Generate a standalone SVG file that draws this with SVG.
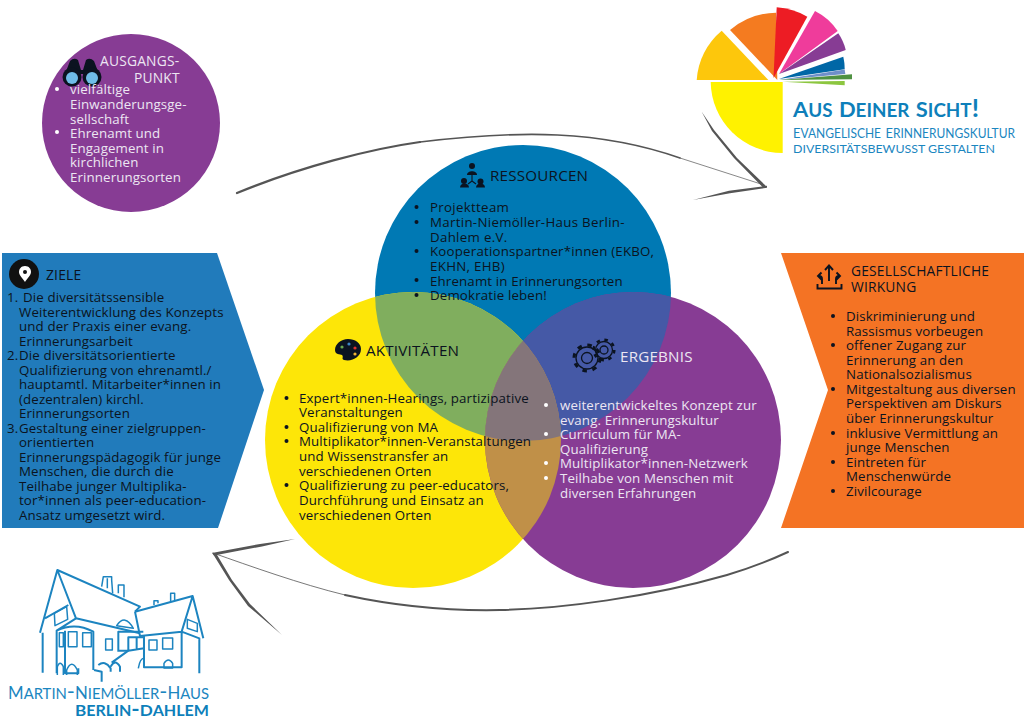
<svg xmlns="http://www.w3.org/2000/svg" width="1024" height="724" viewBox="0 0 1024 724">
<style>
text{font-family:"Open Sans","Noto Sans","Liberation Sans",sans-serif;font-size:13.3px;letter-spacing:.12px;fill:#0b1320}
.l{fill:#ece6f2}
.h{font-size:15.2px;letter-spacing:.2px}
.h2{font-size:13.8px;letter-spacing:.2px}
.dot{fill:#0b1320}
.wd{fill:#fff}
.sk{fill:none;stroke:#555;stroke-linecap:round}
.bar{fill:#555}
.lg{font-family:"Lato","Noto Sans",sans-serif;font-variant:small-caps;fill:#1b86bf;letter-spacing:0}
.lb{font-weight:700;fill:#0e7fba}
.hs{fill:none;stroke:#1c84c0;stroke-width:6;stroke-linejoin:round}
.hi{fill:none;stroke:#1c84c0;stroke-width:4.500;stroke-linejoin:round}
</style>
<defs>
<circle id="cb" cx="523" cy="293" r="148"/>
<circle id="cy" cx="413" cy="440" r="148"/>
<circle id="cp" cx="633" cy="440" r="148"/>
<clipPath id="clb"><use href="#cb"/></clipPath>
<clipPath id="cly"><use href="#cy"/></clipPath>
</defs>
<rect width="1024" height="724" fill="#fff"/>

<g id="connectors">
<path class="sk" stroke-width="2.200" d="M237,193C300,167 370,149 420,142"/>
<path class="sk" stroke-width="1.600" d="M420,142C520,130 600,130 680,158"/>
<path class="sk" stroke-width=".7" d="M680,158L764,185"/>
<path class="bar" d="M701.700,111.700L714,130L737,158L767,187L763,187.500L734,158L712,131Z"/>
<path class="bar" d="M767,185.800V187.800L730,193.200L693,200L729,190.700Z"/>
<path class="sk" stroke-width=".8" d="M213,553C250,566 300,584 345,595"/>
<path class="sk" stroke-width="2" d="M345,595C400,607 450,611 500,610C560,609 650,597 727,575Q760,565 788,552"/>
<path class="bar" d="M295,539L260,544L225,550.500L212,553L214,555.500L240,550.500L262,546.500Z"/>
<path class="bar" d="M213,554L216.500,554L232,580L250,604L282,635L248,606L229,580Z"/>
</g>

<g id="logo-aus-deiner-sicht">
<path d="M782.700,82H710.700A72,72 0 0 0 782.700,153Z" fill="#fff200"/>
<path d="M768.300,80H696.700A70,70 0 0 1 721.700,30.700Z" fill="#fdc70c"/>
<path d="M777.300,80L730,30A74,74 0 0 1 776,12.700Z" fill="#f47b20"/>
<path d="M773.500,78L776.700,7.300A70,70 0 0 1 807.300,16.700Z" fill="#ed1c24"/>
<path d="M779,74L815,11A60,60 0 0 1 837.700,31Z" fill="#ef3c9b"/>
<path d="M779,74L838.300,33.300A50,50 0 0 1 845.700,50Z" fill="#873c94"/>
<path d="M779,79L843.300,56.700A50,50 0 0 1 844.700,69.300Z" fill="#0067a6"/>
<path d="M779,80L844.700,69.500L845.300,74Z" fill="#6f8fc9"/>
<path d="M779,80L852,74.300V79.300Z" fill="#4f9242"/>
<path d="M782.700,81.700L844.700,81V85.300Z" fill="#8cc63f"/>
<text class="lg lb" x="793" y="116.500" style="font-size:25px" textLength="186" lengthAdjust="spacingAndGlyphs"><tspan style="font-size:21px">A</tspan>us <tspan style="font-size:21px">D</tspan>einer <tspan style="font-size:21px">S</tspan>icht!</text>
<text class="lg" x="793" y="137.700" style="font-size:18.500px" textLength="222" lengthAdjust="spacingAndGlyphs"><tspan style="font-size:14px">E</tspan>vangelische <tspan style="font-size:14px">E</tspan>rinnerungskultur</text>
<text x="793" y="152.700" style="font-family:Lato,'Noto Sans',sans-serif;font-size:11.200px;letter-spacing:0;fill:#1b86bf" textLength="202" lengthAdjust="spacingAndGlyphs">DIVERSITÄTSBEWUSST GESTALTEN</text>
</g>

<g id="logo-martin-niemoeller-haus">
<g transform="translate(0,560) scale(.3333)">
<path class="hs" d="M120,218L172,30L228,175L420,220M172,30L420,140L405,155M135,175L205,135M128,218V338"/>
<path class="hi" d="M163,160L200,140L203,178L165,197Z"/>
<path class="hs" d="M228,175L170,212V340M170,212Q225,185 280,215V330M195,212V340H235V325M282,330L305,335V365"/>
<rect class="hi" x="178" y="218" width="12" height="42"/>
<rect class="hi" x="205" y="215" width="26" height="45"/>
<rect class="hi" x="248" y="218" width="26" height="42"/>
<path class="hi" d="M172,345V320Q180,300 190,320V345M200,345V330Q215,295 232,330V345"/>
<rect class="hi" x="317" y="237" width="20" height="33"/>
<path class="hi" d="M350,197Q375,160 400,205Z"/>
<path class="hs" d="M355,275V215H430M355,272H385L432,265M385,272V232H432V320M410,232V268"/>
<path class="hs" d="M295,315Q315,300 332,325V335M332,320Q345,295 360,320V335M335,308L385,272"/>
<path class="hi" d="M415,325Q420,295 432,295"/>
<path class="hs" d="M405,155L578,108L610,235M405,155L420,228L545,215L578,108M545,215L598,235V340M432,228V322H545V215"/>
<rect class="hi" x="447" y="240" width="24" height="30"/>
<rect class="hi" x="488" y="234" width="30" height="33"/>
<path class="hi" d="M492,324V310Q505,290 518,310V324Z"/>
<path class="hi" d="M562,178L592,190V215L562,205Z"/>
<path class="hi" d="M305,80L310,50H335V60L338,100M322,85V55M355,100V75H372V112"/>
<path class="hi" d="M462,135V122H474V130M512,125V100H524V120"/>
</g>
<text class="lg" x="8" y="698.700" style="font-size:22px" textLength="201" lengthAdjust="spacingAndGlyphs"><tspan style="font-size:17px">M</tspan>artin-<tspan style="font-size:17px">N</tspan>iemöller-<tspan style="font-size:17px">H</tspan>aus</text>
<text class="lg lb" x="75" y="716" style="font-size:21px" textLength="134" lengthAdjust="spacingAndGlyphs"><tspan style="font-size:16px">B</tspan>erlin-<tspan style="font-size:16px">D</tspan>ahlem</text>
</g>

<g id="venn">
<use href="#cb" fill="#0079b4"/>
<use href="#cy" fill="#fde608"/>
<use href="#cp" fill="#873c94"/>
<g clip-path="url(#clb)"><use href="#cy" fill="#80ae5e"/><use href="#cp" fill="#4559a6"/></g>
<g clip-path="url(#cly)"><use href="#cp" fill="#c09048"/></g>
<g clip-path="url(#clb)"><g clip-path="url(#cly)"><use href="#cp" fill="#84757a"/></g></g>
</g>

<g id="ressourcen">
<g fill="#0b1320">
<circle cx="472" cy="166" r="3"/><path d="M467,175c0-5 10-5 10,0z"/>
<circle cx="464" cy="181" r="3"/><path d="M460,187.500c0-5.500 9-5.500 9,0z"/>
<circle cx="480.500" cy="181.500" r="3"/><path d="M476,187.500c0-5.500 9-5.500 9,0z"/>
<path d="M472,175v6M472,181l-4,3M472,181l4,3" stroke="#0b1320" stroke-width="1.100" fill="none"/>
</g>
<text class="h" x="490" y="181">RESSOURCEN</text>
<g class="dot">
<circle cx="416.500" cy="207" r="2"/><circle cx="416.500" cy="222" r="2"/><circle cx="416.500" cy="251" r="2"/><circle cx="416.500" cy="280" r="2"/><circle cx="416.500" cy="295" r="2"/>
</g>
<g style="letter-spacing:.3px">
<text x="430" y="212" style="letter-spacing:.3px">Projektteam</text>
<text x="430" y="227" style="letter-spacing:.3px">Martin-Niemöller-Haus Berlin-</text>
<text x="430" y="242" style="letter-spacing:.3px">Dahlem e.V.</text>
<text x="430" y="256" style="letter-spacing:.2px">Kooperationspartner*innen (EKBO,</text>
<text x="430" y="271" style="letter-spacing:.3px">EKHN, EHB)</text>
<text x="430" y="286" style="letter-spacing:.15px">Ehrenamt in Erinnerungsorten</text>
<text x="430" y="300" style="letter-spacing:.15px">Demokratie leben!</text>
</g>
</g>

<g id="aktivitaeten">
<path d="M348,339c-7,0-13,5-13,11 0,5 5,4 7,5 2,2-1,4 2,5 8,2 17-3 17-11 0-6-6-10-13-10z" fill="#0b1320"/>
<circle cx="342" cy="347" r="1.600" fill="#6aa84f"/><circle cx="349" cy="344" r="1.600" fill="#3d85c6"/><circle cx="355" cy="348" r="1.600" fill="#e03030"/><circle cx="355" cy="354" r="1.600" fill="#f1b434"/>
<text class="h" x="366" y="356">AKTIVITÄTEN</text>
<g class="dot">
<circle cx="286.500" cy="398" r="2"/><circle cx="286.500" cy="427" r="2"/><circle cx="286.500" cy="441" r="2"/><circle cx="286.500" cy="485" r="2"/>
</g>
<text x="299" y="403">Expert*innen-Hearings, partizipative</text>
<text x="299" y="417">Veranstaltungen</text>
<text x="299" y="432">Qualifizierung von MA</text>
<text x="299" y="446">Multiplikator*innen-Veranstaltungen</text>
<text x="299" y="461">und Wissenstransfer an</text>
<text x="299" y="476">verschiedenen Orten</text>
<text x="299" y="490">Qualifizierung zu peer-educators,</text>
<text x="299" y="505">Durchführung und Einsatz an</text>
<text x="299" y="520">verschiedenen Orten</text>
</g>

<g id="ergebnis">
<g fill="none" stroke="#0b1320">
<circle cx="587" cy="358" r="5.500" stroke-width="1.300"/><circle cx="587" cy="358" r="11" stroke-width="1.300"/><circle cx="587" cy="358" r="13" stroke-dasharray="4.500 5.700" stroke-width="3"/>
<circle cx="604" cy="350" r="4" stroke-width="1.300"/><circle cx="604" cy="350" r="8.500" stroke-width="1.300"/><circle cx="604" cy="350" r="10.300" stroke-dasharray="3.500 4.600" stroke-width="2.500"/>
</g>
<text class="h l" x="620" y="362">ERGEBNIS</text>
<g class="wd">
<circle cx="546" cy="405" r="2"/><circle cx="546" cy="434" r="2"/><circle cx="546" cy="463" r="2"/><circle cx="546" cy="478" r="2"/>
</g>
<text class="l" x="560" y="410">weiterentwickeltes Konzept zur</text>
<text class="l" x="560" y="425">evang. Erinnerungskultur</text>
<text class="l" x="560" y="439">Curriculum für MA-</text>
<text class="l" x="560" y="454">Qualifizierung</text>
<text class="l" x="560" y="468">Multiplikator*innen-Netzwerk</text>
<text class="l" x="560" y="483">Teilhabe von Menschen mit</text>
<text class="l" x="560" y="498">diversen Erfahrungen</text>
</g>

<g id="ausgangspunkt">
<circle cx="131" cy="123" r="89" fill="#873c94"/>
<g fill="#0b1320">
<path d="M65,74L70,61Q74,57 78,60L81,70H83L86,60Q90,57 94,61L99,74Z"/>
<circle cx="72" cy="77" r="9.500"/><circle cx="92" cy="77" r="9.500"/>
</g>
<circle cx="72" cy="78" r="6" fill="#6fbde8"/><circle cx="92" cy="78" r="6" fill="#6fbde8"/>
<text class="l h2" x="100" y="66">AUSGANGS-</text>
<text class="l h2" x="134" y="83">PUNKT</text>
<circle cx="57" cy="89" r="2" class="wd"/><circle cx="57" cy="132" r="2" class="wd"/>
<text class="l" x="70" y="94">vielfältige</text>
<text class="l" x="70" y="109">Einwanderungsge-</text>
<text class="l" x="70" y="124">sellschaft</text>
<text class="l" x="70" y="138">Ehrenamt und</text>
<text class="l" x="70" y="153">Engagement in</text>
<text class="l" x="70" y="167">kirchlichen</text>
<text class="l" x="70" y="182">Erinnerungsorten</text>
</g>

<g id="ziele">
<path d="M2,253H217L264,390L218,528H2Z" fill="#217bbb"/>
<circle cx="24" cy="274" r="15" fill="#111"/>
<path d="M25,266c-4,0-6,3-6,6 0,3 4,7 6,10 2-3 6-7 6-10 0-3-2-6-6-6z" fill="#fff"/><circle cx="25" cy="272" r="2" fill="#111"/>
<text class="h2" x="46" y="280">ZIELE</text>
<text x="7" y="302">1.</text><text x="23" y="302">Die diversitätssensible</text>
<text x="19" y="317">Weiterentwicklung des Konzepts</text>
<text x="19" y="331">und der Praxis einer evang.</text>
<text x="19" y="346">Erinnerungsarbeit</text>
<text x="7" y="360">2.</text><text x="19" y="360">Die diversitätsorientierte</text>
<text x="19" y="375">Qualifizierung von ehrenamtl./</text>
<text x="19" y="389">hauptamtl. Mitarbeiter*innen in</text>
<text x="19" y="404">(dezentralen) kirchl.</text>
<text x="19" y="418">Erinnerungsorten</text>
<text x="7" y="433">3.</text><text x="19" y="433">Gestaltung einer zielgruppen-</text>
<text x="19" y="447">orientierten</text>
<text x="19" y="462">Erinnerungspädagogik für junge</text>
<text x="19" y="476">Menschen, die durch die</text>
<text x="19" y="491">Teilhabe junger Multiplika-</text>
<text x="19" y="505">tor*innen als peer-education-</text>
<text x="19" y="520">Ansatz umgesetzt wird.</text>
</g>

<g id="gesellschaftliche-wirkung">
<path d="M781,253H1024V528H781L828,390Z" fill="#f47324"/>
<g fill="none" stroke="#0b1320" stroke-width="1.900">
<path d="M817.500,284v4.500H841.500v-4.500"/>
<path d="M829,281V266M825,270L829,265.500L833,270"/>
<path d="M822,284V279Q822,276 819,276M821.500,272.500L818,276L821.500,279.500"/>
<path d="M836,284V279Q836,276 839,276M836.500,272.500L840,276L836.500,279.500"/>
</g>
<text class="h2" x="851" y="276">GESELLSCHAFTLICHE</text>
<text class="h2" x="851" y="292">WIRKUNG</text>
<g class="dot">
<circle cx="833" cy="316" r="2"/><circle cx="833" cy="345" r="2"/><circle cx="833" cy="389" r="2"/><circle cx="833" cy="433" r="2"/><circle cx="833" cy="462" r="2"/><circle cx="833" cy="491" r="2"/>
</g>
<text x="846" y="321">Diskriminierung und</text>
<text x="846" y="336">Rassismus vorbeugen</text>
<text x="846" y="350">offener Zugang zur</text>
<text x="846" y="365">Erinnerung an den</text>
<text x="846" y="379">Nationalsozialismus</text>
<text x="846" y="394">Mitgestaltung aus diversen</text>
<text x="846" y="408">Perspektiven am Diskurs</text>
<text x="846" y="423">über Erinnerungskultur</text>
<text x="846" y="438">inklusive Vermittlung an</text>
<text x="846" y="452">junge Menschen</text>
<text x="846" y="467">Eintreten für</text>
<text x="846" y="481">Menschenwürde</text>
<text x="846" y="496">Zivilcourage</text>
</g>
</svg>
